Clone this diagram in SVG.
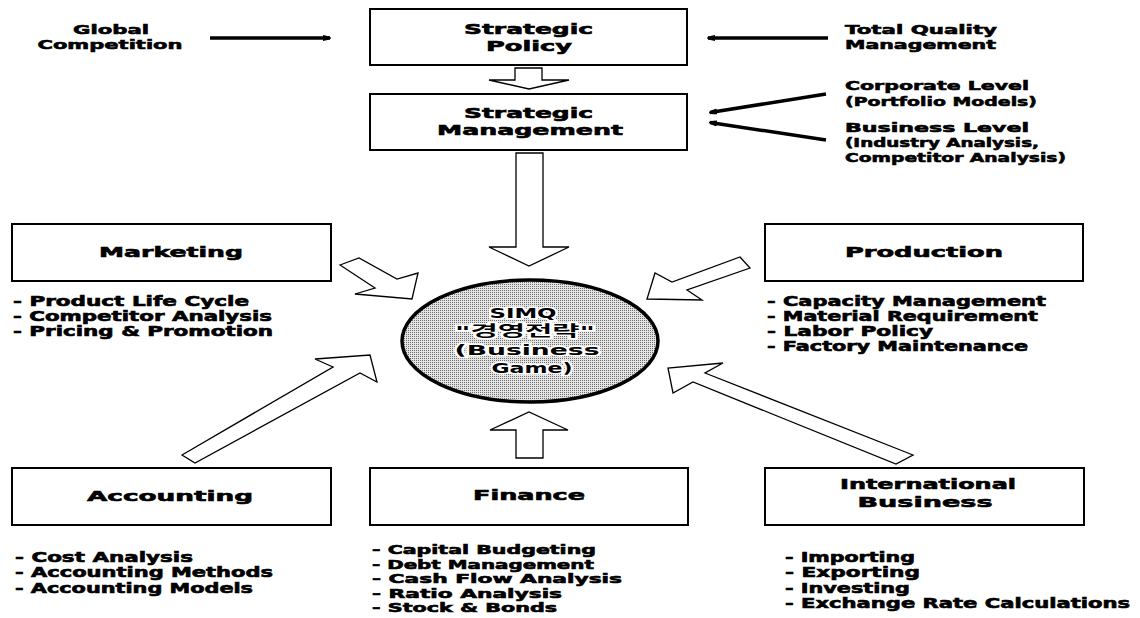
<svg xmlns="http://www.w3.org/2000/svg" width="1140" height="618" viewBox="0 0 1140 618">
<style>
  .box { fill: #ffffff; stroke: #000000; stroke-width: 2; }
  .blk { fill: #ffffff; stroke: #000000; stroke-width: 1.3; stroke-linejoin: miter; }
  .ln { stroke: #000000; stroke-width: 3.5; fill: none; }
  text { font-family: "DejaVu Sans", "Liberation Sans", "Noto Sans CJK KR", sans-serif; font-weight: bold; fill: #000000; stroke: #000000; stroke-width: 0.6; }
  .h { font-size: 14.5px; text-anchor: middle; }
  .i { font-size: 13.5px; }
  .f { font-size: 12.5px; }
  .s { font-size: 13px; }
  .c { font-size: 14.5px; text-anchor: middle; paint-order: stroke; stroke: #ffffff; stroke-width: 3; }
</style>
<defs>
  <pattern id="dots" width="2" height="2" patternUnits="userSpaceOnUse">
    <rect width="2" height="2" fill="#e4e4e4"/>
    <rect width="1" height="1" fill="#6e6e6e"/>
  </pattern>
  <marker id="ah" markerWidth="10" markerHeight="8" refX="7" refY="4" orient="auto" markerUnits="userSpaceOnUse">
    <path d="M0,1 Q8,2.5 8,4 Q8,5.5 0,7 z" fill="#000000"/>
  </marker>
</defs>

<g id="connectors">
  <line class="ln" x1="210" y1="38" x2="330" y2="38" marker-end="url(#ah)"/>
  <line class="ln" x1="828" y1="38" x2="708" y2="38" marker-end="url(#ah)"/>
  <line class="ln" x1="826" y1="94" x2="710" y2="112.5" marker-end="url(#ah)"/>
  <line class="ln" x1="826" y1="140" x2="710" y2="122.5" marker-end="url(#ah)"/>
  <polygon class="blk" points="515,68 542,68 542,80 569,80 529,89 489,80 515,80"/>
  <polygon class="blk" points="516,153 543,153 543,247 569,247 529,266 489,247 516,247"/>
  <polygon class="blk" points="516,458 543,458 543,430 568,430 529,412 490,430 516,430"/>
  <polygon class="blk" points="340,265 359,258 397,279 418,273 412,299 355,294 375,288"/>
  <polygon class="blk" points="740,257 750,268 687,290 702,300 647,299 655,273 672,282"/>
  <polygon class="blk" points="182,455 333,367 315,359 370,355 377,382 360,373 195,463"/>
  <polygon class="blk" points="913,455 705,373 723,363 668,368 673,393 693,382 896,464"/>
</g>

<g id="global-competition">
  <text class="s" x="111" y="34" text-anchor="middle" textLength="76" lengthAdjust="spacingAndGlyphs">Global</text>
  <text class="s" x="110" y="49" text-anchor="middle" textLength="145" lengthAdjust="spacingAndGlyphs">Competition</text>
</g>

<g id="tqm">
  <text class="s" x="845" y="34" textLength="152" lengthAdjust="spacingAndGlyphs">Total Quality</text>
  <text class="s" x="845" y="49" textLength="151" lengthAdjust="spacingAndGlyphs">Management</text>
</g>

<g id="corporate-level">
  <text class="s" x="845" y="90" textLength="184" lengthAdjust="spacingAndGlyphs">Corporate Level</text>
  <text class="s" x="845" y="106" textLength="192" lengthAdjust="spacingAndGlyphs">(Portfolio Models)</text>
</g>

<g id="business-level">
  <text class="s" x="845" y="132" textLength="184" lengthAdjust="spacingAndGlyphs">Business Level</text>
  <text class="s" x="845" y="147" textLength="194" lengthAdjust="spacingAndGlyphs">(Industry Analysis,</text>
  <text class="s" x="845" y="162" textLength="221" lengthAdjust="spacingAndGlyphs">Competitor Analysis)</text>
</g>

<g id="strategic-policy">
  <rect class="box" x="370" y="9" width="317" height="56"/>
  <text class="h" x="528.5" y="34" textLength="129" lengthAdjust="spacingAndGlyphs">Strategic</text>
  <text class="h" x="529" y="51" textLength="86" lengthAdjust="spacingAndGlyphs">Policy</text>
</g>

<g id="strategic-management">
  <rect class="box" x="370" y="94" width="317" height="56"/>
  <text class="h" x="528.5" y="118" textLength="129" lengthAdjust="spacingAndGlyphs">Strategic</text>
  <text class="h" x="530" y="135" textLength="186" lengthAdjust="spacingAndGlyphs">Management</text>
</g>

<g id="marketing">
  <rect class="box" x="12" y="224" width="319" height="57"/>
  <text class="h" x="171" y="257" textLength="144" lengthAdjust="spacingAndGlyphs">Marketing</text>
  <text class="i" x="13" y="306" textLength="236" lengthAdjust="spacingAndGlyphs">- Product Life Cycle</text>
  <text class="i" x="13" y="321" textLength="259" lengthAdjust="spacingAndGlyphs">- Competitor Analysis</text>
  <text class="i" x="13" y="336" textLength="260" lengthAdjust="spacingAndGlyphs">- Pricing &amp; Promotion</text>
</g>

<g id="production">
  <rect class="box" x="765" y="224" width="318" height="57"/>
  <text class="h" x="924" y="257" textLength="158" lengthAdjust="spacingAndGlyphs">Production</text>
  <text class="i" x="767" y="306" textLength="279" lengthAdjust="spacingAndGlyphs">- Capacity Management</text>
  <text class="i" x="767" y="321" textLength="271" lengthAdjust="spacingAndGlyphs">- Material Requirement</text>
  <text class="i" x="767" y="336" textLength="166" lengthAdjust="spacingAndGlyphs">- Labor Policy</text>
  <text class="i" x="767" y="351" textLength="261" lengthAdjust="spacingAndGlyphs">- Factory Maintenance</text>
</g>

<g id="simq">
  <ellipse cx="530" cy="341" rx="128" ry="61" fill="url(#dots)" stroke="#000000" stroke-width="3.5"/>
  <text class="c" x="523" y="318" textLength="67" lengthAdjust="spacingAndGlyphs">SIMQ</text>
  <text class="c" x="525" y="336" textLength="140" lengthAdjust="spacingAndGlyphs">"경영전략"</text>
  <text class="c" x="527" y="355" textLength="145" lengthAdjust="spacingAndGlyphs">(Business</text>
  <text class="c" x="532" y="373" textLength="81" lengthAdjust="spacingAndGlyphs">Game)</text>
</g>

<g id="accounting">
  <rect class="box" x="12" y="468" width="319" height="57"/>
  <text class="h" x="170" y="501" textLength="166" lengthAdjust="spacingAndGlyphs">Accounting</text>
  <text class="i" x="15" y="562" textLength="178" lengthAdjust="spacingAndGlyphs">- Cost Analysis</text>
  <text class="i" x="15" y="577" textLength="258" lengthAdjust="spacingAndGlyphs">- Accounting Methods</text>
  <text class="i" x="15" y="593" textLength="238" lengthAdjust="spacingAndGlyphs">- Accounting Models</text>
</g>

<g id="finance">
  <rect class="box" x="370" y="468" width="318" height="57"/>
  <text class="h" x="529" y="500" textLength="112" lengthAdjust="spacingAndGlyphs">Finance</text>
  <text class="f" x="372" y="554" textLength="224" lengthAdjust="spacingAndGlyphs">- Capital Budgeting</text>
  <text class="f" x="372" y="568.5" textLength="222" lengthAdjust="spacingAndGlyphs">- Debt Management</text>
  <text class="f" x="372" y="583" textLength="250" lengthAdjust="spacingAndGlyphs">- Cash Flow Analysis</text>
  <text class="f" x="372" y="597.5" textLength="190" lengthAdjust="spacingAndGlyphs">- Ratio Analysis</text>
  <text class="f" x="372" y="612" textLength="185" lengthAdjust="spacingAndGlyphs">- Stock &amp; Bonds</text>
</g>

<g id="international-business">
  <rect class="box" x="765" y="468" width="319" height="57"/>
  <text class="h" x="928" y="489" textLength="176" lengthAdjust="spacingAndGlyphs">International</text>
  <text class="h" x="925" y="507" textLength="135" lengthAdjust="spacingAndGlyphs">Business</text>
  <text class="i" x="785" y="562" textLength="130" lengthAdjust="spacingAndGlyphs">- Importing</text>
  <text class="i" x="785" y="577" textLength="135" lengthAdjust="spacingAndGlyphs">- Exporting</text>
  <text class="i" x="785" y="593" textLength="125" lengthAdjust="spacingAndGlyphs">- Investing</text>
  <text class="i" x="785" y="608" textLength="345" lengthAdjust="spacingAndGlyphs">- Exchange Rate Calculations</text>
</g>
</svg>
